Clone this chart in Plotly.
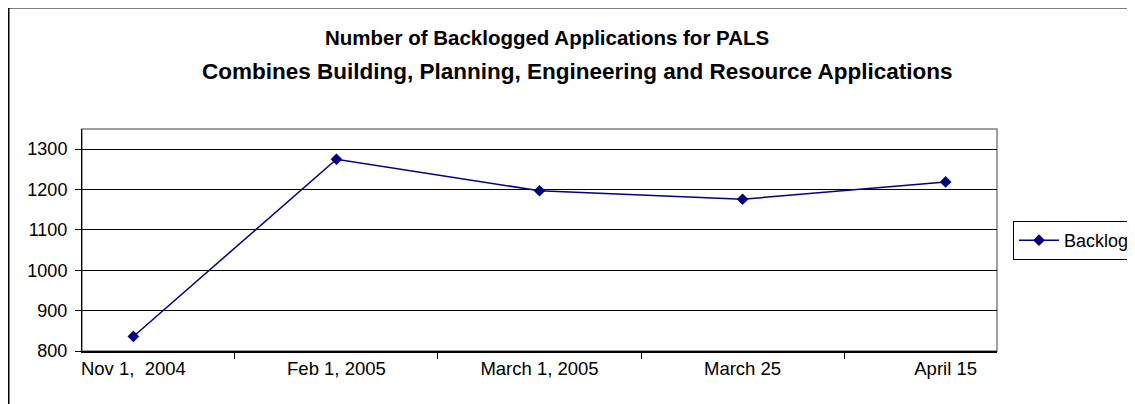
import plotly.graph_objects as go

categories = ["Nov 1,  2004", "Feb 1, 2005", "March 1, 2005", "March 25", "April 15"]
backlog = [836, 1275, 1197, 1176, 1219]
series_name = "Backlog"
title_line1 = "Number of Backlogged Applications for PALS"
title_line2 = "Combines Building, Planning, Engineering and Resource Applications"

FONT = "Liberation Sans, Arial, sans-serif"
OFF = 8  # page body margin
W, H = 1135 - OFF, 404 - OFF
L, R, T, B = 82 - OFF, 138, 129 - OFF, 53
pw = W - L - R
ph = H - T - B

def px(x):  # screen x -> paper
    return (x - OFF - L) / pw

def py(y):  # screen y -> paper
    return (H - B - (y - OFF)) / ph

fig = go.Figure()
fig.add_trace(go.Scatter(
    x=categories, y=backlog, mode="lines+markers", name=series_name,
    line=dict(color="#000080", width=1.5),
    marker=dict(symbol="diamond", size=9, color="#000080"),
))

fig.update_layout(
    width=W, height=H,
    margin=dict(l=L, r=R, t=T, b=B, autoexpand=False),
    paper_bgcolor="white", plot_bgcolor="white",
    font=dict(family=FONT, size=18, color="black"),
    showlegend=True,
    legend=dict(x=px(1013), y=py(221), xanchor="left", yanchor="top",
                bordercolor="black", borderwidth=1, bgcolor="white",
                font=dict(size=18), itemwidth=40, tracegroupgap=0),
    xaxis=dict(type="category", showgrid=False, tickson="boundaries",
               ticks="outside", ticklen=6, tickcolor="black",
               showline=True, linecolor="black", linewidth=1.5,
               tickfont=dict(size=18.5), zeroline=False),
    yaxis=dict(range=[800, 1350], dtick=100, tick0=800, showgrid=True,
               gridcolor="black", gridwidth=1, ticks="outside", ticklen=6,
               tickcolor="black", showline=True, linecolor="black",
               linewidth=1, tickfont=dict(size=18), zeroline=False,
               ticklabelstandoff=4),
)

# plot area border (gray)
fig.add_shape(type="rect", xref="paper", yref="paper", x0=0, y0=0, x1=1, y1=1,
              line=dict(color="#808080", width=1.5), layer="below")
# chart outer border
fig.add_shape(type="rect", xref="paper", yref="paper",
              x0=px(8.75), y0=py(430), x1=px(1160), y1=py(7.75),
              line=dict(color="black", width=1.5))

fig.add_annotation(text="<b>" + title_line1 + "</b>", xref="paper", yref="paper",
                   x=px(546.5), y=py(37), showarrow=False, xanchor="center", yanchor="middle",
                   font=dict(size=20.5, family=FONT))
fig.add_annotation(text="<b>" + title_line2 + "</b>", xref="paper", yref="paper",
                   x=px(577), y=py(71), showarrow=False, xanchor="center", yanchor="middle",
                   font=dict(size=22.5, family=FONT))

fig.write_html("out.html")
